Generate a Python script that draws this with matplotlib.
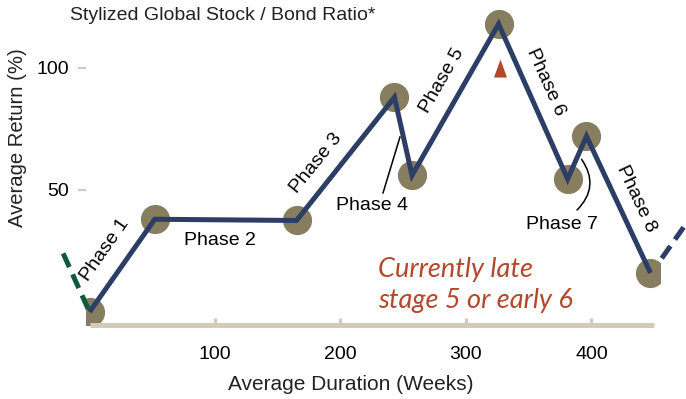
import matplotlib
matplotlib.use("Agg")
import matplotlib.pyplot as plt
from matplotlib.patches import FancyArrowPatch

plt.rcParams['font.family'] = ['Liberation Sans', 'DejaVu Sans']

# Stylized cycle: duration (weeks) vs. average return (%)
weeks = [0, 52, 165, 243, 257, 326, 381, 396, 447]
returns = [0, 38, 37.5, 88, 56, 118, 54.5, 72, 16]

# lead-in and continuation segments
lead_in_x = [-21, 0]
lead_in_y = [24, 0]
cont_x = [456, 482]
cont_y = [22, 41]

marker_pos = (327, 100)

x_ticks = [0, 100, 200, 300, 400]
x_tick_labels = ['', '100', '200', '300', '400']
y_ticks = [50, 100]
y_tick_labels = ['50', '100']

phase_labels = ['Phase 1', 'Phase 2', 'Phase 3', 'Phase 4',
                'Phase 5', 'Phase 6', 'Phase 7', 'Phase 8']

NAVY = '#2c3e66'
KHAKI = '#877d5f'
BEIGE = '#d3cbb8'
RUST = '#b4472b'
GREEN = '#0e5b3c'

W, H = 686, 399
fig = plt.figure(figsize=(W / 100, H / 100), dpi=100)
left_px, right_px, top_px, bot_px = 86, 660, 5, 325
ax = fig.add_axes([left_px / W, 1 - bot_px / H,
                   (right_px - left_px) / W, (bot_px - top_px) / H])
ax.set_xlim(-2.8, 454.6)
ax.set_ylim(-5.33, 125.8)
ax.patch.set_alpha(0)

for s in ['top', 'right', 'left']:
    ax.spines[s].set_visible(False)
ax.spines['bottom'].set_color(BEIGE)
ax.spines['bottom'].set_linewidth(3.6)
ax.spines['bottom'].set_bounds(0, 450)
ax.spines['bottom'].set_capstyle('butt')

ax.set_xticks(x_ticks)
ax.set_xticklabels(x_tick_labels)
ax.tick_params(axis='x', direction='in', length=5, width=2.4, color=BEIGE,
               labelsize=14, pad=15)
ax.set_yticks(y_ticks)
ax.set_yticklabels(y_tick_labels)
ax.tick_params(axis='y', direction='out', length=6, width=1.6, color=BEIGE,
               labelsize=14, pad=6)

# markers and path
ax.plot(weeks, returns, 'o', ms=21, color=KHAKI, mec='none', zorder=2)
ax.plot(weeks, returns, '-', lw=3.6, color=NAVY, zorder=3,
        solid_joinstyle='miter', solid_capstyle='butt')
ax.plot(lead_in_x, lead_in_y, '-', lw=3.6, color=GREEN, zorder=4,
        dashes=[3.0, 1.6], clip_on=False)
ax.plot(cont_x, cont_y, '-', lw=3.6, color=NAVY, zorder=4,
        dashes=[3.0, 1.6], clip_on=False)

tri = [(-0.36, -0.5), (0.36, -0.5), (0, 0.5)]
ax.plot([marker_pos[0]], [marker_pos[1]], marker=tri, ms=13,
        color=RUST, mec='none', zorder=4)

# phase labels: (x, y, rotation)
label_pos = [(12.4, 25.4, 55), (104, 29.1, 0), (180.5, 61, 51),
             (225, 43.5, 0), (281, 95, 60), (363.7, 94.3, -66),
             (376.5, 35.7, 0), (435.5, 46.5, -65)]
for txt, (lx, ly, rot) in zip(phase_labels, label_pos):
    ax.text(lx, ly, txt, rotation=rot, rotation_mode='anchor',
            ha='center', va='center', fontsize=14, color='black', zorder=5)

# leader lines for phases 4 and 7
ax.plot([233.9, 247.4], [48.8, 71.7], color='black', lw=1.1, zorder=5)
arc = FancyArrowPatch((386.9, 41), (390.8, 63.5), arrowstyle='-',
                      connectionstyle='arc3,rad=0.45', color='black',
                      lw=1.1, zorder=5)
ax.add_patch(arc)

ax.text(229.9, 11.0, 'Currently late\nstage 5 or early 6', ha='left',
        va='center', fontsize=19.5, color=RUST, style='italic',
        family=['Lato', 'DejaVu Sans'], linespacing=1.3, zorder=5)

fig.text(70 / W, 1 - 15 / H, 'Stylized Global Stock / Bond Ratio*',
         ha='left', va='center', fontsize=14, color='#222222')
fig.text(18 / W, 1 - 138 / H, 'Average Return (%)', rotation=90,
         ha='center', va='center', fontsize=14.6, color='#222222')
fig.text(351 / W, 1 - 385 / H, 'Average Duration (Weeks)',
         ha='center', va='center', fontsize=15, color='#222222')

fig.savefig('out.png', dpi=100)
